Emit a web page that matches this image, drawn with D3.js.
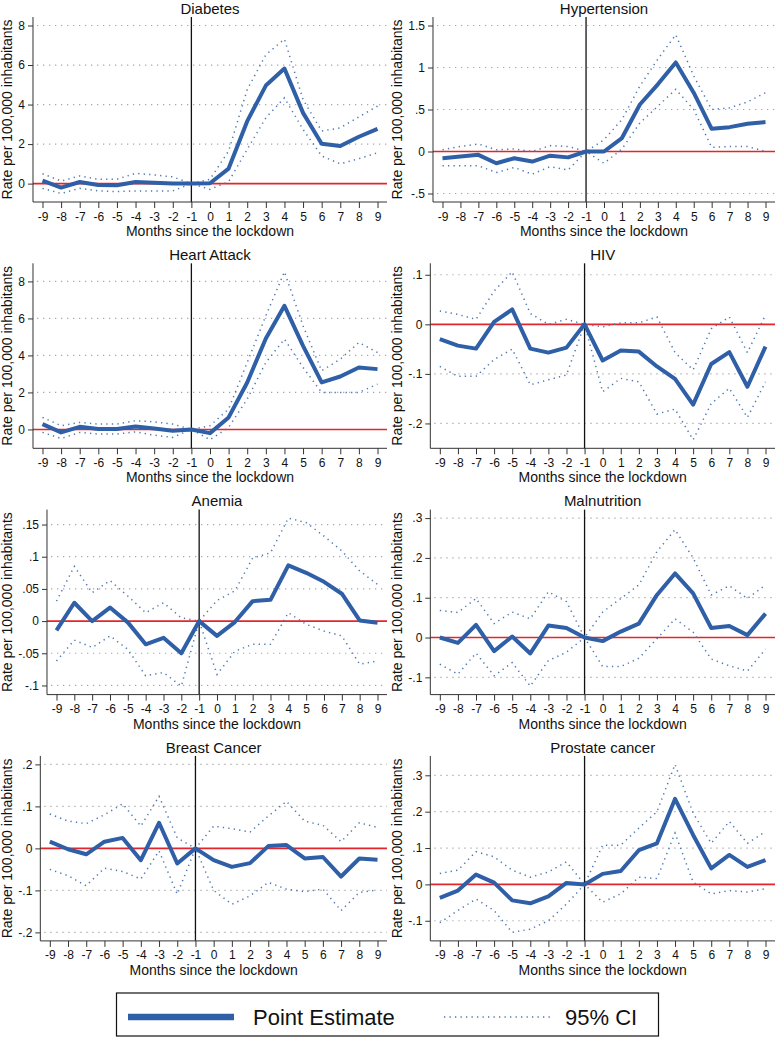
<!DOCTYPE html>
<html><head><meta charset="utf-8">
<script src="https://cdn.jsdelivr.net/npm/d3@7"></script>
<style>
html,body{margin:0;padding:0;background:#fff;}
text{font-family:"Liberation Sans",Arial,Helvetica,sans-serif;}
</style></head>
<body><svg id="c" width="777" height="1038"></svg>
<script>
const months = [-9,-8,-7,-6,-5,-4,-3,-2,-1,0,1,2,3,4,5,6,7,8,9];

const diabetesEst = [0.15,-0.2,0.08,-0.07,-0.08,0.08,0.05,0.0,0,0.02,0.76,3.16,4.96,5.82,3.58,2.02,1.9,2.37,2.77];
const diabetesUp  = [0.5,0.13,0.39,0.22,0.22,0.52,0.44,0.34,0,0.22,1.65,4.76,6.52,7.31,4.25,2.66,2.82,3.38,3.92];
const diabetesLo  = [-0.24,-0.5,-0.24,-0.37,-0.4,-0.37,-0.37,-0.37,0,-0.29,0.1,1.73,3.33,4.34,2.74,1.4,1.0,1.26,1.56];
const diabetesTicks = [0,2,4,6,8];

const hypertensionEst = [-0.08,-0.06,-0.04,-0.14,-0.08,-0.12,-0.05,-0.07,0,0.0,0.16,0.56,0.8,1.06,0.7,0.27,0.29,0.33,0.35];
const hypertensionUp  = [0.02,0.06,0.09,0.02,0.03,0.0,0.07,0.06,0,0.14,0.38,0.78,1.1,1.39,0.9,0.5,0.52,0.59,0.7];
const hypertensionLo  = [-0.17,-0.17,-0.17,-0.25,-0.19,-0.27,-0.18,-0.22,0,-0.14,0.03,0.34,0.54,0.74,0.5,0.05,0.06,0.06,0.0];
const hypertensionTicks = [-0.5,0,0.5,1,1.5];

const heartEst = [0.29,-0.16,0.14,0.02,0.02,0.16,0.05,-0.07,0,-0.2,0.65,2.54,4.92,6.68,4.52,2.54,2.86,3.35,3.26];
const heartUp  = [0.65,0.2,0.38,0.29,0.29,0.47,0.41,0.29,0,0.2,1.1,3.62,6.14,8.52,5.6,3.17,3.8,4.7,4.16];
const heartLo  = [-0.16,-0.49,-0.16,-0.25,-0.25,-0.13,-0.31,-0.43,0,-0.56,0.11,1.64,3.62,4.88,3.35,2.0,2.0,2.0,2.45];
const heartTicks = [0,2,4,6,8];

const hivEst = [-0.030,-0.043,-0.049,0.005,0.030,-0.049,-0.057,-0.047,0,-0.073,-0.053,-0.055,-0.085,-0.110,-0.162,-0.080,-0.056,-0.126,-0.045];
const hivUp  = [0.027,0.02,0.01,0.067,0.106,0.022,0.0,0.01,0,-0.005,0.003,0.003,0.015,-0.057,-0.092,-0.009,0.015,-0.057,0.019];
const hivLo  = [-0.085,-0.105,-0.105,-0.071,-0.05,-0.122,-0.112,-0.102,0,-0.136,-0.109,-0.116,-0.181,-0.171,-0.233,-0.160,-0.129,-0.188,-0.116];
const hivTicks = [-0.2,-0.1,0,0.1];

const anemiaEst = [-0.0145,0.0285,0,0.021,-0.002,-0.036,-0.026,-0.05,0,-0.023,-0.0015,0.031,0.033,0.0865,0.075,0.061,0.0425,0.001,-0.0026];
const anemiaUp  = [0.031,0.085,0.044,0.063,0.039,0.013,0.0285,0.005,0,0.032,0.047,0.098,0.106,0.16,0.153,0.132,0.109,0.078,0.057];
const anemiaLo  = [-0.062,-0.0295,-0.041,-0.023,-0.044,-0.085,-0.08,-0.101,0,-0.083,-0.047,-0.036,-0.036,0.013,-0.005,-0.0155,-0.023,-0.067,-0.062];
const anemiaTicks = [-0.1,-0.05,0,0.05,0.1,0.15];

const malnutritionEst = [0,-0.0135,0.032,-0.034,0.0025,-0.04,0.030,0.024,0,-0.009,0.015,0.035,0.107,0.161,0.111,0.024,0.029,0.006,0.060];
const malnutritionUp  = [0.068,0.063,0.098,0.035,0.064,0.047,0.115,0.09,0,0.064,0.098,0.132,0.216,0.271,0.2,0.107,0.13,0.098,0.132];
const malnutritionLo  = [-0.067,-0.092,-0.039,-0.096,-0.063,-0.122,-0.058,-0.037,0,-0.073,-0.073,-0.052,-0.003,0.047,0.0135,-0.054,-0.071,-0.084,-0.029];
const malnutritionTicks = [-0.1,0,0.1,0.2,0.3];

const breastEst = [0.016,-0.002,-0.014,0.016,0.025,-0.028,0.061,-0.036,0,-0.028,-0.044,-0.035,0.0055,0.008,-0.024,-0.0205,-0.067,-0.024,-0.027];
const breastUp  = [0.082,0.065,0.059,0.08,0.106,0.053,0.124,0.025,0,0.053,0.047,0.039,0.077,0.112,0.065,0.055,0.016,0.061,0.05];
const breastLo  = [-0.05,-0.065,-0.089,-0.047,-0.055,-0.073,-0.006,-0.109,0,-0.1,-0.133,-0.113,-0.081,-0.097,-0.103,-0.097,-0.148,-0.105,-0.099];
const breastTicks = [-0.2,-0.1,0,0.1,0.2];

const prostateEst = [-0.037,-0.017,0.027,0.005,-0.044,-0.052,-0.033,0.004,0,0.029,0.037,0.094,0.113,0.235,0.136,0.044,0.081,0.048,0.067];
const prostateUp  = [0.03,0.039,0.09,0.076,0.039,0.02,0.034,0.062,0,0.108,0.108,0.155,0.2,0.33,0.196,0.113,0.173,0.113,0.145];
const prostateLo  = [-0.105,-0.072,-0.04,-0.072,-0.132,-0.123,-0.1,-0.054,0,-0.049,-0.026,0.02,0.016,0.141,0.006,-0.026,-0.017,-0.021,-0.012];
const prostateTicks = [-0.1,0,0.1,0.2,0.3];

const titles = ["Diabetes","Hypertension","Heart Attack","HIV","Anemia","Malnutrition","Breast Cancer","Prostate cancer"];
const yTitle = "Rate per 100,000 inhabitants";
const xTitle = "Months since the lockdown";
const legendLabels = ["Point Estimate","95% CI"];

const panels = [
  {title:titles[0], est:diabetesEst, up:diabetesUp, lo:diabetesLo, ticks:diabetesTicks},
  {title:titles[1], est:hypertensionEst, up:hypertensionUp, lo:hypertensionLo, ticks:hypertensionTicks},
  {title:titles[2], est:heartEst, up:heartUp, lo:heartLo, ticks:heartTicks},
  {title:titles[3], est:hivEst, up:hivUp, lo:hivLo, ticks:hivTicks},
  {title:titles[4], est:anemiaEst, up:anemiaUp, lo:anemiaLo, ticks:anemiaTicks},
  {title:titles[5], est:malnutritionEst, up:malnutritionUp, lo:malnutritionLo, ticks:malnutritionTicks},
  {title:titles[6], est:breastEst, up:breastUp, lo:breastLo, ticks:breastTicks},
  {title:titles[7], est:prostateEst, up:prostateUp, lo:prostateLo, ticks:prostateTicks}
];

const BLUE = "#2f5fa6", CIBLUE = "#4d78b3", RED = "#e3262b", AX = "#333";
const svg = d3.select("#c");

function fmt(v){
  if (v === 0) return "0";
  let s = String(+v.toFixed(3));
  s = s.replace(/^0\./, ".").replace(/^-0\./, "-.");
  return s;
}

function measure(str, size){
  const t = svg.append("text").attr("font-size", size).text(str);
  const w = t.node().getComputedTextLength();
  t.remove();
  return w;
}

panels.forEach((p, i) => {
  const col = i % 2, row = Math.floor(i / 2);
  const x0 = col === 0 ? 0 : 390;
  const right = col === 0 ? 387 : 775;
  const top = 17 + row * 246.3, bottom = top + 185;
  const labW = d3.max(p.ticks, t => measure(fmt(t), 12));
  const axisX = x0 + 18.3 + labW + 8;

  const x = d3.scaleLinear().domain([-9, 9]).range([axisX + 9.5, right - 9.5]);
  const all = p.est.concat(p.up, p.lo, p.ticks);
  const y = d3.scaleLinear().domain(d3.extent(all)).range([bottom - 8.5, top + 8.5]);

  const g = svg.append("g");

  // gridlines
  g.selectAll(".grid").data(p.ticks.filter(t => t !== 0)).join("line")
    .attr("x1", axisX + 4).attr("x2", right)
    .attr("y1", d => y(d)).attr("y2", d => y(d))
    .attr("stroke", "#a8a8a8").attr("stroke-width", 1.2)
    .attr("stroke-dasharray", "1.3 4.7");

  // red zero line
  g.append("line").attr("x1", axisX).attr("x2", right)
    .attr("y1", y(0)).attr("y2", y(0))
    .attr("stroke", RED).attr("stroke-width", 1.6);

  // vertical line at -1
  g.append("line").attr("x1", x(-1)).attr("x2", x(-1))
    .attr("y1", top).attr("y2", bottom)
    .attr("stroke", "#111").attr("stroke-width", 1.3);

  const line = (arr) => d3.line().x((d, j) => x(months[j])).y(d => y(d))(arr);

  [p.up, p.lo].forEach(arr => {
    g.append("path").attr("d", line(arr)).attr("fill", "none")
      .attr("stroke", CIBLUE).attr("stroke-width", 1.5)
      .attr("stroke-dasharray", "1.3 4.2");
  });
  g.append("path").attr("d", line(p.est)).attr("fill", "none")
    .attr("stroke", BLUE).attr("stroke-width", 4)
    .attr("stroke-linejoin", "round");

  // y axis
  const yAxis = d3.axisLeft(y).tickValues(p.ticks).tickFormat(fmt).tickSize(5).tickPadding(3);
  const ya = g.append("g").attr("transform", `translate(${axisX},0)`).call(yAxis);
  ya.select(".domain").attr("d", `M-0.0,${top}V${bottom}`).attr("stroke", AX);
  ya.selectAll(".tick line").attr("stroke", AX);
  ya.selectAll(".tick text").attr("font-size", 12).attr("fill", "#111")
    .attr("font-family", '"Liberation Sans",Arial,sans-serif');

  // x axis
  const xAxis = d3.axisBottom(x).tickValues(months).tickFormat(d => String(d)).tickSize(6).tickPadding(4);
  const xa = g.append("g").attr("transform", `translate(0,${bottom})`).call(xAxis);
  xa.select(".domain").attr("d", `M${axisX},0H${right}`).attr("stroke", AX);
  xa.selectAll(".tick line").attr("stroke", AX);
  xa.selectAll(".tick text").attr("font-size", 12).attr("fill", "#111")
    .attr("font-family", '"Liberation Sans",Arial,sans-serif');

  // titles
  const cx = (axisX + right) / 2;
  g.append("text").attr("x", cx).attr("y", top - 3.4).attr("text-anchor", "middle")
    .attr("font-size", 15).attr("fill", "#111").text(p.title);
  g.append("text").attr("x", cx).attr("y", bottom + 34).attr("text-anchor", "middle")
    .attr("font-size", 14).attr("fill", "#111").text(xTitle);
  g.append("text").attr("transform", `translate(${x0 + 11.5},${(top + bottom) / 2}) rotate(-90)`)
    .attr("text-anchor", "middle").attr("font-size", 14).attr("fill", "#111").text(yTitle);
});

// legend
const lg = svg.append("g");
lg.append("rect").attr("x", 116.5).attr("y", 993).attr("width", 542).attr("height", 43)
  .attr("fill", "none").attr("stroke", "#111").attr("stroke-width", 1.2);
lg.append("line").attr("x1", 128).attr("x2", 234).attr("y1", 1017).attr("y2", 1017)
  .attr("stroke", BLUE).attr("stroke-width", 6.5);
lg.append("text").attr("x", 253).attr("y", 1025).attr("font-size", 22).attr("fill", "#111").text(legendLabels[0]);
lg.append("line").attr("x1", 444).attr("x2", 550).attr("y1", 1017).attr("y2", 1017)
  .attr("stroke", CIBLUE).attr("stroke-width", 1.5).attr("stroke-dasharray", "1.3 4.2");
lg.append("text").attr("x", 565).attr("y", 1025).attr("font-size", 22).attr("fill", "#111").text(legendLabels[1]);
</script></body></html>
